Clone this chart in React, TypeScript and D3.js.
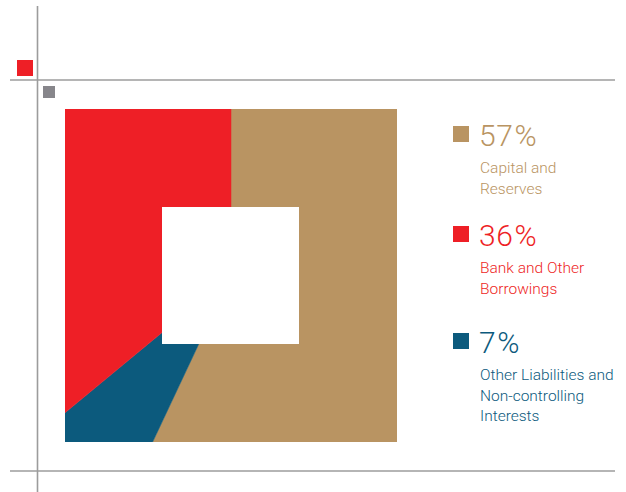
import React from "react";
import * as d3 from "d3";

const categories = ["Capital and Reserves", "Bank and Other Borrowings", "Other Liabilities and Non-controlling Interests"];
const values = [57, 36, 7];
const percentLabels = ["57", "36", "7"];
const labelLines = [["Capital and", "Reserves"], ["Bank and Other", "Borrowings"], ["Other Liabilities and", "Non-controlling", "Interests"]];
const colors = ["#B99462", "#EE1F26", "#0C5A7D"];
// clockwise drawing order starting at 12 o'clock
const drawOrder = [0, 2, 1];

const W = 626;
const H = 492;

export default function App() {
  const sq = { x0: 65, y0: 109, x1: 397, y1: 442 };
  const cx = (sq.x0 + sq.x1) / 2;
  const cy = (sq.y0 + sq.y1) / 2;
  const inner = { x0: 162, y0: 207, x1: 299, y1: 344 };

  const pieData = drawOrder.map((i) => ({ i, v: values[i] }));
  const arcs = d3.pie<{ i: number; v: number }>().sort(null).value((d) => d.v)(pieData);
  const arcGen = d3.arc<d3.PieArcDatum<{ i: number; v: number }>>().innerRadius(0).outerRadius(400);

  const legendTop = [126, 226, 333];
  const font = "Roboto, 'Liberation Sans', Arial, sans-serif";

  return (
    <div style={{ position: "absolute", left: 0, top: 0 }}>
      <svg width={W} height={H} style={{ display: "block" }}>
        <defs>
          <clipPath id="sqclip">
            <rect x={sq.x0} y={sq.y0} width={sq.x1 - sq.x0} height={sq.y1 - sq.y0} />
          </clipPath>
        </defs>
        {/* frame lines */}
        <line x1={37.5} x2={37.5} y1={6} y2={492} stroke="#9c9c9c" strokeWidth={1.6} />
        <line x1={10} x2={615} y1={80} y2={80} stroke="#9c9c9c" strokeWidth={1.6} />
        <line x1={10} x2={615} y1={471} y2={471} stroke="#9c9c9c" strokeWidth={1.6} />
        <rect x={17} y={60} width={16} height={16} fill="#EE1F26" />
        <rect x={43} y={86} width={12} height={12} fill="#87868B" />

        {/* square pie */}
        <g clipPath="url(#sqclip)">
          {arcs.map((a) => (
            <path
              key={a.data.i}
              d={arcGen(a) || ""}
              transform={`translate(${cx},${cy})`}
              fill={colors[a.data.i]}
              stroke={colors[a.data.i]}
              strokeWidth={0.5}
            />
          ))}
        </g>
        <rect x={inner.x0} y={inner.y0} width={inner.x1 - inner.x0} height={inner.y1 - inner.y0} fill="#ffffff" />

        {/* legend */}
        {categories.map((c, i) => (
          <g key={c}>
            <rect x={453} y={legendTop[i]} width={16} height={16} fill={colors[i]} />
            <text x={479} y={legendTop[i] + 20} fontFamily={font} fontWeight={300} fontSize={30} letterSpacing={0.5} fill={colors[i]}>
              {percentLabels[i]}
              <tspan dx={1.2}>%</tspan>
            </text>
            {labelLines[i].map((ln, j) => (
              <text key={j} x={480} y={legendTop[i] + 47 + j * 20.5} fontFamily={font} fontWeight={300} fontSize={15.5} fill={colors[i]}>
                {ln}
              </text>
            ))}
          </g>
        ))}
      </svg>
    </div>
  );
}
